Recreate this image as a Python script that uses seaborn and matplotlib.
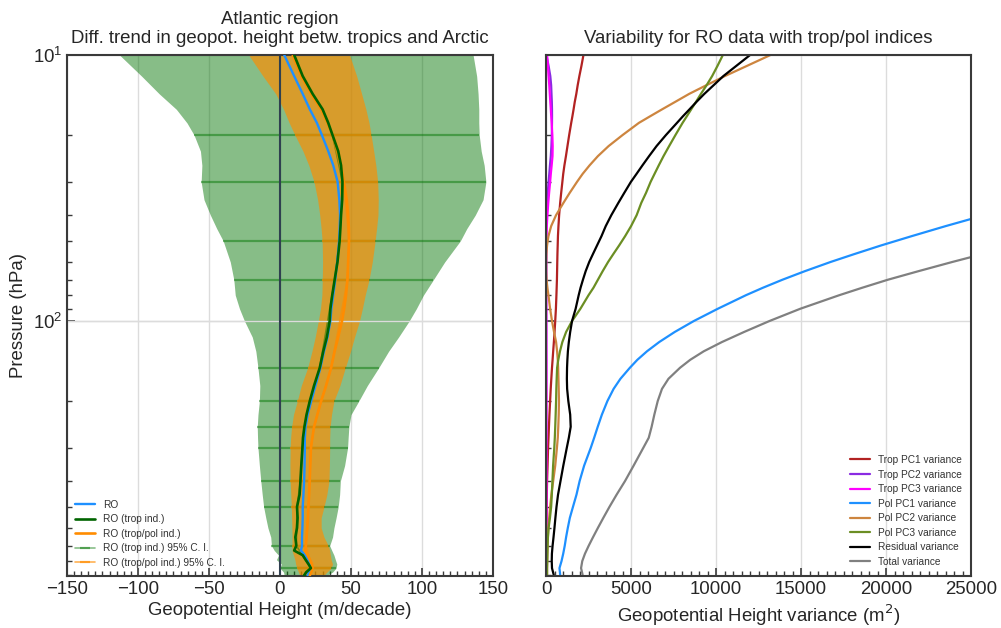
import numpy as np
import matplotlib
matplotlib.use("Agg")
import matplotlib.pyplot as plt
from matplotlib.ticker import MultipleLocator, LogLocator, NullFormatter
import seaborn as sns

# ---------------- trend profiles (m/decade) on pressure levels (hPa) ----------------
pres_trend = [10, 12, 14, 16, 18, 20, 23, 26, 30, 35, 40, 45, 50, 60, 70, 80, 90,
              100, 115, 130, 150, 175, 200, 225, 250, 275, 300, 350, 400, 450, 500,
              550, 600, 650, 700, 730, 760, 790, 820, 850, 880, 905]
ro = [3, 10, 16, 21, 26, 29.5, 34, 37.5, 40.6, 41.8, 42.3, 42, 41.6, 40.3, 38.9, 37.5,
      36.2, 35.5, 33.5, 31, 28.5, 25, 22, 19.5, 18, 17.5, 17.5, 17.3, 17, 16.5, 16,
      16, 15.8, 15.5, 15.5, 14.8, 17.5, 19.5, 20.5, 21.8, 20.5, 19.5]
ro_trop = [10, 16, 23, 30, 34, 37, 41, 43, 44, 43.8, 43, 42.5, 42, 40.5, 38.5, 36.8,
           35.5, 35, 33, 30.5, 28, 24, 21, 18.7, 17.2, 16.2, 15.8, 15, 14.4, 13.8, 12,
           12.4, 12, 10.8, 11.5, 10, 16, 18, 20, 21.8, 18.5, 17]
ro_troppol = [9, 15, 22, 29, 33.5, 37, 41, 43, 45, 47, 48, 48.5, 48.6, 48, 47.5, 46.5,
              45.2, 43.7, 41, 38.5, 36, 32.5, 29, 26.3, 24, 22.8, 21.8, 21.3, 20.9, 20.5,
              20, 19.7, 19.2, 18.7, 18.2, 17.6, 19.5, 21, 22.5, 23, 22, 21]
ci_trop_lo = [-113, -97.5, -85, -73, -65.5, -60.5, -56, -55, -55.5, -53.5, -49, -44.5,
              -40, -35, -32.5, -31.5, -28.5, -25, -19.5, -17, -15.5, -14.2, -14.5, -15.5,
              -16, -15.8, -15.5, -14.5, -13.5, -12.5, -11.5, -10, -8.5, -6.5, -6, -4, -1,
              -2.5, 1, 0, 2.5, 3]
ci_trop_hi = [136, 138.5, 139.5, 140, 140, 140.3, 141.7, 143.8, 145, 143, 137.5, 131.5,
              127, 116, 108, 101, 96, 91, 83.5, 76.5, 69.5, 61.5, 55.5, 50, 48.5, 48,
              47.6, 45.5, 42.5, 42, 41, 39.5, 38, 37, 35, 36.5, 38, 39, 40, 39.5, 37, 33]
ci_troppol_lo = [-22, -12, -3, 2.5, 6.5, 10.5, 16.2, 20.3, 24, 26.5, 28, 29, 29.7, 30,
                 29.8, 29.5, 28.5, 27, 24.8, 22.5, 19.5, 15, 12.2, 9.5, 8.2, 7.5, 7.2, 7,
                 7.2, 7.6, 8, 8.2, 8.4, 8.5, 8.5, 8.5, 9.5, 10.5, 11, 12, 13, 14]
ci_troppol_hi = [49, 54, 57.5, 60.5, 62.7, 64.2, 66, 67.5, 68.8, 69.2, 69, 68, 67, 65,
                 62.7, 60, 58, 56, 52.5, 49.7, 46, 42.2, 38, 36.3, 35.3, 35, 35, 34.8,
                 34.5, 33, 31, 29, 29, 31, 34, 35, 35.5, 36, 37, 36, 33, 31]
# standard pressure levels, where the confidence intervals are shown as bars
std_levels = [20, 30, 50, 70, 150, 200, 250, 300, 400, 500, 700, 850]

# ---------------- variance profiles (m^2) ----------------
pres_var = [10, 11, 12, 13, 14, 15, 16, 17, 18, 20, 22, 24, 26, 28, 30, 33, 36, 40, 44,
            48, 52, 56, 60, 65, 70, 75, 80, 90, 100, 110, 120, 130, 140, 150, 165, 180,
            200, 225, 250, 275, 300, 350, 400, 450, 500, 550, 600, 650, 700, 750, 800,
            850, 900]
trop_pc1 = [2200, 2080, 1960, 1860, 1780, 1690, 1620, 1550, 1480, 1360, 1260, 1170, 1080,
            1010, 960, 890, 830, 770, 730, 700, 685, 670, 660, 650, 640, 625, 610, 580,
            540, 500, 460, 420, 385, 350, 310, 275, 240, 200, 170, 145, 120, 90, 60, 45,
            35, 25, 20, 15, 12, 10, 8, 6, 5]
trop_pc2 = [20, 150, 250, 300, 320, 340, 350, 352, 350, 340, 315, 280, 230, 190, 150, 100,
            65, 25, 12, 6, 5, 5, 5, 5, 5, 5, 5, 5, 5, 5, 5, 5, 5, 5, 5, 5, 5, 5, 5, 5, 5,
            5, 5, 5, 5, 5, 5, 5, 5, 5, 5, 5, 5]
trop_pc3 = [60, 110, 150, 190, 220, 250, 280, 305, 330, 370, 390, 380, 330, 280, 240, 180,
            130, 80, 45, 25, 15, 10, 10, 10, 10, 12, 12, 15, 18, 20, 20, 22, 25, 25, 25,
            25, 25, 25, 25, 25, 25, 25, 25, 25, 25, 25, 25, 25, 25, 25, 25, 25, 25]
pol_pc1 = [70000, 66000, 62000, 59000, 56000, 53000, 51000, 49000, 47000, 44000, 41000,
           38500, 36500, 34500, 33000, 30500, 28500, 25800, 23500, 21500, 19710, 18150,
           16740, 15220, 13900, 12760, 11760, 10100, 8700, 7570, 6660, 5940, 5370, 4930,
           4375, 3975, 3610, 3285, 3040, 2830, 2630, 2240, 1975, 1790, 1584, 1400, 1280,
           1180, 1100, 1010, 910, 790, 830]
pol_pc2 = [13200, 11800, 10520, 9420, 8420, 7600, 6830, 6120, 5460, 4500, 3680, 3050,
           2560, 2150, 1820, 1390, 1020, 590, 300, 140, 60, 20, 5, 5, 30, 80, 140, 240,
           350, 470, 590, 650, 690, 712, 730, 745, 760, 745, 720, 690, 640, 540, 420, 315,
           240, 185, 135, 110, 95, 80, 70, 60, 60]
pol_pc3 = [10400, 10080, 9770, 9440, 9110, 8820, 8540, 8280, 8030, 7610, 7240, 6910,
           6630, 6380, 6150, 5880, 5600, 5330, 5000, 4650, 4300, 3960, 3650, 3330, 3050,
           2790, 2500, 2020, 1530, 1180, 960, 820, 720, 650, 625, 605, 590, 565, 540, 515,
           485, 415, 375, 340, 300, 230, 150, 110, 90, 80, 70, 60, 60]
residual = [12000, 11180, 10430, 9850, 9310, 8850, 8440, 8050, 7700, 7050, 6500, 6060,
            5670, 5320, 4990, 4600, 4250, 3840, 3510, 3260, 3000, 2760, 2540, 2330, 2170,
            2030, 1920, 1740, 1530, 1420, 1340, 1285, 1255, 1235, 1225, 1240, 1310, 1420,
            1450, 1340, 1220, 1015, 850, 705, 615, 550, 495, 440, 385, 345, 335, 350, 450]
total = [95000, 90000, 86000, 82000, 78000, 75000, 72000, 69500, 67000, 62000, 58000,
         54000, 50500, 47500, 45000, 41500, 38500, 35000, 32500, 30000, 27600, 25700,
         23900, 21900, 20100, 18600, 17250, 14950, 13150, 11650, 10350, 9280, 8480, 7880,
         7200, 6820, 6570, 6370, 6210, 6040, 5720, 5150, 4645, 4150, 3730, 3370, 3050,
         2765, 2510, 2290, 2130, 2060, 2150]

variance_series = [
    ("Trop PC1 variance", trop_pc1, "firebrick"),
    ("Trop PC2 variance", trop_pc2, "blueviolet"),
    ("Trop PC3 variance", trop_pc3, "magenta"),
    ("Pol PC1 variance", pol_pc1, "dodgerblue"),
    ("Pol PC2 variance", pol_pc2, "peru"),
    ("Pol PC3 variance", pol_pc3, "olivedrab"),
    ("Residual variance", residual, "black"),
    ("Total variance", total, "gray"),
]

# ---------------- style ----------------
sns.set_theme(style="whitegrid")
plt.rcParams["font.family"] = ["Liberation Sans", "DejaVu Sans"]
plt.rcParams["axes.edgecolor"] = "#3a3a3a"
plt.rcParams["axes.linewidth"] = 1.5
plt.rcParams["grid.color"] = "#dcdcdc"
plt.rcParams["grid.linewidth"] = 1.0
plt.rcParams["text.color"] = "#262626"
plt.rcParams["axes.labelcolor"] = "#262626"

fig = plt.figure(figsize=(10.01, 6.28), dpi=100)
ax1 = fig.add_axes([0.0669, 0.0828, 0.4256, 0.8296])
ax2 = fig.add_axes([0.5455, 0.0828, 0.4246, 0.8296], sharey=ax1)

FS = 13.4
GREEN_CI = (0.0, 0.45, 0.0)
ORANGE_CI = "darkorange"

p = np.array(pres_trend, dtype=float)
is_std = np.isin(p, std_levels)

# confidence bands
ax1.fill_betweenx(p, ci_trop_lo, ci_trop_hi, color=GREEN_CI, alpha=0.47, lw=0, zorder=1)
ax1.fill_betweenx(p, ci_troppol_lo, ci_troppol_hi, color=ORANGE_CI, alpha=0.67, lw=0,
                  zorder=1.1)

# confidence intervals as bars at the standard levels
t_c = np.array(ro_trop)[is_std]
tp_c = np.array(ro_troppol)[is_std]
ax1.errorbar(t_c, p[is_std],
             xerr=[t_c - np.array(ci_trop_lo)[is_std], np.array(ci_trop_hi)[is_std] - t_c],
             color=GREEN_CI, alpha=0.47, lw=1.2, elinewidth=1.6, capsize=0, zorder=1.2,
             label="RO (trop ind.) 95% C. I.")
ax1.errorbar(tp_c, p[is_std],
             xerr=[tp_c - np.array(ci_troppol_lo)[is_std],
                   np.array(ci_troppol_hi)[is_std] - tp_c],
             color=ORANGE_CI, alpha=0.67, lw=1.2, elinewidth=1.6, capsize=0, zorder=1.3,
             label="RO (trop/pol ind.) 95% C. I.")

# the 100 hPa level stays visible through the bands
ax1.axhline(100, color="#dcdcdc", lw=1.0, zorder=1.4)
ax1.axvline(0, color="#2f4050", lw=1.5, zorder=2)

sns.lineplot(x=ro, y=pres_trend, orient="y", sort=False, estimator=None,
             color="#1E90FF", lw=1.7, ax=ax1, label="RO", zorder=3)
sns.lineplot(x=ro_trop, y=pres_trend, orient="y", sort=False, estimator=None,
             color="darkgreen", lw=1.9, ax=ax1, label="RO (trop ind.)", zorder=3.2)
sns.lineplot(x=ro_troppol, y=pres_trend, orient="y", sort=False, estimator=None,
             color="darkorange", lw=1.9, ax=ax1, label="RO (trop/pol ind.)", zorder=3.1)

for label, vals, col in variance_series:
    sns.lineplot(x=vals, y=pres_var, orient="y", sort=False, estimator=None,
                 color=col, lw=1.6, ax=ax2, label=label)

# ---------------- axes ----------------
for ax in (ax1, ax2):
    ax.set_yscale("log")
    ax.set_ylim(910, 10)
    ax.yaxis.set_major_locator(LogLocator(base=10))
    ax.yaxis.set_minor_locator(LogLocator(base=10, subs=np.arange(2, 10)))
    ax.yaxis.set_minor_formatter(NullFormatter())
    ax.tick_params(axis="both", which="both", direction="in", colors="#3a3a3a",
                   labelcolor="#262626", labelsize=FS, left=True, bottom=True)
    ax.tick_params(which="major", length=6, width=1.2)
    ax.tick_params(which="minor", length=3.5, width=1.0)
    ax.grid(True, which="major")
    ax.grid(False, which="minor")
    ax.set_axisbelow(True)
    for s in ax.spines.values():
        s.set_color("#3a3a3a")
        s.set_linewidth(1.5)

ax1.set_xlim(-150, 150)
ax1.xaxis.set_major_locator(MultipleLocator(50))
ax1.xaxis.set_minor_locator(MultipleLocator(5))
ax2.set_xlim(0, 25000)
ax2.xaxis.set_major_locator(MultipleLocator(5000))
ax2.xaxis.set_minor_locator(MultipleLocator(500))
ax2.tick_params(axis="y", which="both", labelleft=False)

ax1.set_xlabel("Geopotential Height (m/decade)", fontsize=FS, labelpad=3)
ax1.set_ylabel("Pressure (hPa)", fontsize=FS)
ax2.set_xlabel("Geopotential Height variance (m$^2$)", fontsize=FS, labelpad=3)
ax2.set_ylabel("")
ax1.set_title("Atlantic region\nDiff. trend in geopot. height betw. tropics and Arctic",
              fontsize=FS, pad=9, linespacing=1.1)
ax2.set_title("Variability for RO data with trop/pol indices", fontsize=FS, pad=9)

ax1.legend(loc="lower left", fontsize=7.3, frameon=False, labelcolor="#333333",
           borderaxespad=0.4, labelspacing=0.45)
ax2.legend(loc="lower right", fontsize=7.3, frameon=False, labelcolor="#333333",
           borderaxespad=0.5, labelspacing=0.45)

fig.savefig("out.png", dpi=100)
